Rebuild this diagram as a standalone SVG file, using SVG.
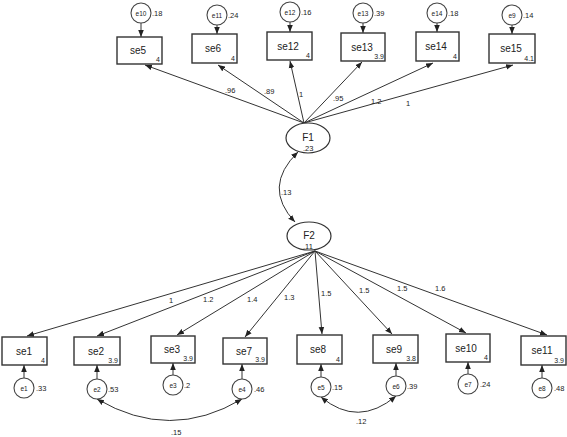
<svg xmlns="http://www.w3.org/2000/svg" width="567" height="437" viewBox="0 0 567 437">
<style>
text{font-family:"Liberation Sans",Arial,sans-serif;fill:#222}
.box{fill:#fff;stroke:#333;stroke-width:1.4}
.lat{fill:#fff;stroke:#333;stroke-width:1.2}
.err{fill:#fff;stroke:#444;stroke-width:1.1}
.lbl{font-size:10px;text-anchor:middle}
.int{font-size:7px;text-anchor:end}
.sm{font-size:7.5px}
.el{font-size:6.5px;text-anchor:middle}
.ln{stroke:#333;stroke-width:1;fill:none;marker-end:url(#ah)}
.cv{stroke:#333;stroke-width:1;fill:none;marker-start:url(#ah);marker-end:url(#ah)}
</style>
<defs>
<marker id="ah" viewBox="0 0 10 10" refX="10" refY="5" markerWidth="7" markerHeight="7" markerUnits="userSpaceOnUse" orient="auto-start-reverse">
<path d="M0,1 L10,5 L0,9 z" fill="#222"/>
</marker>
</defs>
<rect width="567" height="437" fill="#fff"/>
<g id="connectors">
<!-- F1 to top -->
<line class="ln" x1="304" y1="123" x2="145" y2="65"/>
<line class="ln" x1="304" y1="123" x2="218" y2="65"/>
<line class="ln" x1="304" y1="123" x2="290" y2="61"/>
<line class="ln" x1="304" y1="123" x2="362" y2="62"/>
<line class="ln" x1="304" y1="123" x2="433" y2="63"/>
<line class="ln" x1="304" y1="123" x2="513" y2="65"/>
<!-- errors to top boxes -->
<line class="ln" x1="141" y1="23" x2="141" y2="37"/>
<line class="ln" x1="217" y1="25" x2="217" y2="34"/>
<line class="ln" x1="290" y1="22" x2="290" y2="32"/>
<line class="ln" x1="363" y1="23" x2="363" y2="33"/>
<line class="ln" x1="437" y1="23" x2="437" y2="32"/>
<line class="ln" x1="512" y1="25" x2="512" y2="34"/>
<!-- F1-F2 covariance -->
<path class="cv" d="M298,152 Q262,187 295,222"/>
<!-- F2 to bottom -->
<line class="ln" x1="315" y1="251" x2="27" y2="336"/>
<line class="ln" x1="315" y1="251" x2="97" y2="336"/>
<line class="ln" x1="315" y1="251" x2="177" y2="335"/>
<line class="ln" x1="315" y1="251" x2="245" y2="337"/>
<line class="ln" x1="315" y1="251" x2="322" y2="334"/>
<line class="ln" x1="315" y1="251" x2="392" y2="334"/>
<line class="ln" x1="315" y1="251" x2="466" y2="333"/>
<line class="ln" x1="315" y1="251" x2="547" y2="335"/>
<!-- errors to bottom boxes -->
<line class="ln" x1="24" y1="378" x2="24" y2="365"/>
<line class="ln" x1="97" y1="379" x2="97" y2="365"/>
<line class="ln" x1="173" y1="375" x2="173" y2="363"/>
<line class="ln" x1="242" y1="379" x2="242" y2="364"/>
<line class="ln" x1="321" y1="377" x2="321" y2="364"/>
<line class="ln" x1="396" y1="376" x2="396" y2="363"/>
<line class="ln" x1="468" y1="374" x2="468" y2="362"/>
<line class="ln" x1="542" y1="378" x2="542" y2="365"/>
<!-- error covariances -->
<path class="cv" d="M97,399 Q170,442 242,399"/>
<path class="cv" d="M321,397 Q358,428 396,396"/>
</g>
<g id="labels" class="sm">
<text x="225" y="93">.96</text>
<text x="264" y="94">.89</text>
<text x="299" y="97">1</text>
<text x="333" y="101">.95</text>
<text x="371" y="104">1.2</text>
<text x="406" y="106">1</text>
<text x="281" y="195">.13</text>
<text x="169" y="303">1</text>
<text x="203" y="302">1.2</text>
<text x="247" y="302">1.4</text>
<text x="284" y="300">1.3</text>
<text x="321" y="296">1.5</text>
<text x="359" y="293">1.5</text>
<text x="397" y="291">1.5</text>
<text x="435" y="291">1.6</text>
<text x="171" y="435">.15</text>
<text x="356" y="424">.12</text>
</g>
<g id="F1"><ellipse class="lat" cx="308" cy="138" rx="22" ry="15"/><text class="lbl" x="308" y="141">F1</text><text class="sm" x="303" y="151">.23</text></g>
<g id="F2"><ellipse class="lat" cx="309" cy="236" rx="22" ry="14"/><text class="lbl" x="309" y="239">F2</text><text class="sm" x="303" y="249">.11</text></g>
<!-- top indicators -->
<g id="se5"><rect class="box" x="117" y="37" width="45" height="27"/><text class="lbl" x="138" y="54">se5</text><text class="int" x="160" y="62">4</text></g>
<g id="se6"><rect class="box" x="192" y="34" width="45" height="29"/><text class="lbl" x="213" y="52">se6</text><text class="int" x="235" y="61">4</text></g>
<g id="se12"><rect class="box" x="267" y="32" width="45" height="28"/><text class="lbl" x="288" y="50">se12</text><text class="int" x="310" y="58">4</text></g>
<g id="se13"><rect class="box" x="341" y="33" width="44" height="28"/><text class="lbl" x="362" y="51">se13</text><text class="int" x="384" y="59">3.9</text></g>
<g id="se14"><rect class="box" x="416" y="32" width="43" height="29"/><text class="lbl" x="436" y="50">se14</text><text class="int" x="457" y="59">4</text></g>
<g id="se15"><rect class="box" x="489" y="34" width="46" height="29"/><text class="lbl" x="511" y="52">se15</text><text class="int" x="534" y="61">4.1</text></g>
<!-- top errors -->
<g id="e10"><circle class="err" cx="141" cy="13" r="10"/><text class="el" x="141" y="16">e10</text><text class="sm" x="152" y="16">.18</text></g>
<g id="e11"><circle class="err" cx="217" cy="15" r="10"/><text class="el" x="217" y="18">e11</text><text class="sm" x="228" y="18">.24</text></g>
<g id="e12"><circle class="err" cx="290" cy="12" r="10"/><text class="el" x="290" y="15">e12</text><text class="sm" x="301" y="15">.16</text></g>
<g id="e13"><circle class="err" cx="363" cy="13" r="10"/><text class="el" x="363" y="16">e13</text><text class="sm" x="374" y="16">.39</text></g>
<g id="e14"><circle class="err" cx="437" cy="13" r="10"/><text class="el" x="437" y="16">e14</text><text class="sm" x="448" y="16">.18</text></g>
<g id="e9"><circle class="err" cx="512" cy="15" r="10"/><text class="el" x="512" y="18">e9</text><text class="sm" x="523" y="18">.14</text></g>
<!-- bottom indicators -->
<g id="se1"><rect class="box" x="2" y="337" width="45" height="28"/><text class="lbl" x="24" y="355">se1</text><text class="int" x="45" y="363">4</text></g>
<g id="se2"><rect class="box" x="74" y="337" width="46" height="28"/><text class="lbl" x="96" y="355">se2</text><text class="int" x="118" y="363">3.9</text></g>
<g id="se3"><rect class="box" x="151" y="336" width="44" height="27"/><text class="lbl" x="172" y="353">se3</text><text class="int" x="193" y="361">3.9</text></g>
<g id="se7"><rect class="box" x="223" y="338" width="44" height="26"/><text class="lbl" x="244" y="355">se7</text><text class="int" x="265" y="362">3.9</text></g>
<g id="se8"><rect class="box" x="297" y="335" width="45" height="29"/><text class="lbl" x="318" y="353">se8</text><text class="int" x="340" y="362">4</text></g>
<g id="se9"><rect class="box" x="373" y="335" width="45" height="28"/><text class="lbl" x="394" y="353">se9</text><text class="int" x="416" y="361">3.8</text></g>
<g id="se10"><rect class="box" x="446" y="334" width="44" height="28"/><text class="lbl" x="466" y="352">se10</text><text class="int" x="488" y="360">4</text></g>
<g id="se11"><rect class="box" x="521" y="336" width="45" height="29"/><text class="lbl" x="542" y="354">se11</text><text class="int" x="564" y="363">3.9</text></g>
<!-- bottom errors -->
<g id="e1"><circle class="err" cx="24" cy="388" r="10"/><text class="el" x="24" y="391">e1</text><text class="sm" x="36" y="391">.33</text></g>
<g id="e2"><circle class="err" cx="97" cy="389" r="10"/><text class="el" x="97" y="392">e2</text><text class="sm" x="108" y="392">.53</text></g>
<g id="e3"><circle class="err" cx="173" cy="385" r="10"/><text class="el" x="173" y="388">e3</text><text class="sm" x="184" y="388">.2</text></g>
<g id="e4"><circle class="err" cx="242" cy="389" r="10"/><text class="el" x="242" y="392">e4</text><text class="sm" x="254" y="392">.46</text></g>
<g id="e5"><circle class="err" cx="321" cy="387" r="10"/><text class="el" x="321" y="390">e5</text><text class="sm" x="332" y="390">.15</text></g>
<g id="e6"><circle class="err" cx="396" cy="386" r="10"/><text class="el" x="396" y="389">e6</text><text class="sm" x="407" y="389">.39</text></g>
<g id="e7"><circle class="err" cx="468" cy="384" r="10"/><text class="el" x="468" y="387">e7</text><text class="sm" x="480" y="387">.24</text></g>
<g id="e8"><circle class="err" cx="542" cy="388" r="10"/><text class="el" x="542" y="391">e8</text><text class="sm" x="554" y="391">.48</text></g>
</svg>
